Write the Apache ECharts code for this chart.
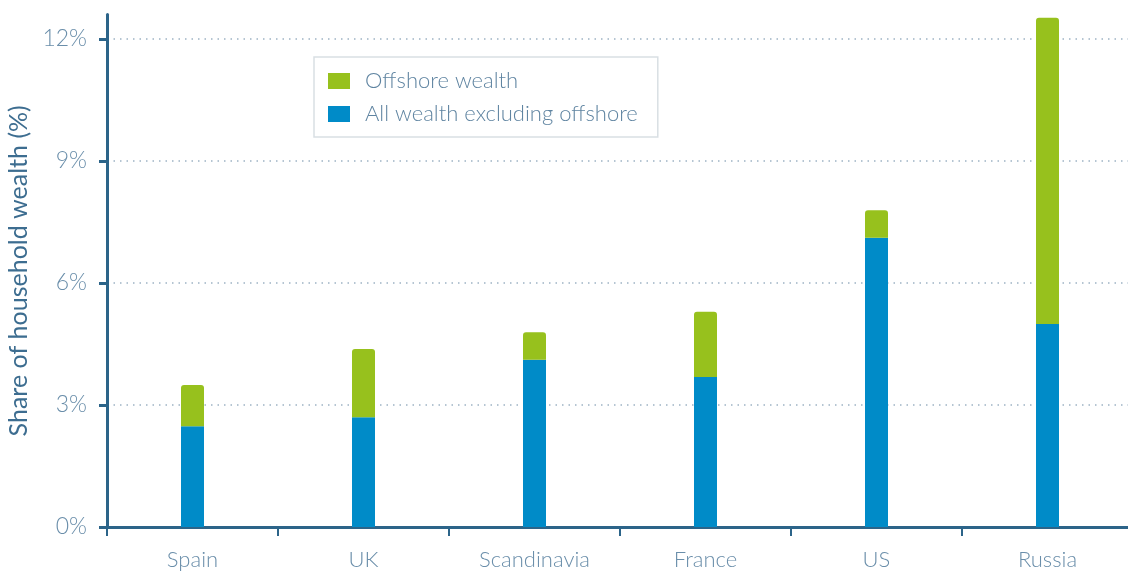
<!DOCTYPE html>
<html>
<head>
<meta charset="utf-8">
<script src="https://cdn.jsdelivr.net/npm/echarts@6/dist/echarts.min.js"></script>
<style>
html, body { margin: 0; padding: 0; background: #fff; }
#container { width: 1128px; height: 572px; }
</style>
</head>
<body>
<div id="container"></div>
<script>
var categories = ['Spain', 'UK', 'Scandinavia', 'France', 'US', 'Russia'];
var baseWealth = [2.48, 2.70, 4.11, 3.69, 7.11, 4.99];
var offshoreWealth = [1.01, 1.68, 0.68, 1.60, 0.68, 7.53];
var yTicks = [0, 3, 6, 9, 12];

var axisColor = '#2c6489';
var labelColor = '#6a8eaa';
var font = 'Lato, "Open Sans", sans-serif';

var dom = document.getElementById('container');
var myChart = echarts.init(dom);
var option = {
    animation: false,
    textStyle: { fontFamily: font },
    grid: { left: 107, top: 14.6, width: 1026, height: 512.4, containLabel: false, outerBoundsMode: 'none' },
    legend: {
        data: ['Offshore wealth', 'All wealth excluding offshore'],
        orient: 'vertical',
        left: 314,
        top: 57,
        padding: [13, 20, 12, 14],
        itemGap: 11,
        itemWidth: 22,
        itemHeight: 16,
        borderColor: '#d9dfe4',
        borderWidth: 1.5,
        icon: 'rect',
        textStyle: { color: '#5f84a1', fontSize: 22, fontWeight: 300, fontFamily: font, padding: [0, 0, 0, 10] }
    },
    xAxis: {
        type: 'category',
        data: categories,
        axisLine: { lineStyle: { color: axisColor, width: 3 } },
        axisTick: { show: true, length: 9, lineStyle: { color: axisColor, width: 2 } },
        axisLabel: { color: labelColor, fontSize: 22, fontWeight: 300, margin: 22 }
    },
    yAxis: {
        type: 'value',
        min: 0,
        max: 12.6,
        interval: 3,
        name: 'Share of household wealth (%)',
        nameLocation: 'middle',
        nameGap: 73,
        nameTextStyle: { color: '#3d6d90', fontSize: 25 },
        axisLine: { show: true, lineStyle: { color: axisColor, width: 3 } },
        axisTick: { show: true, length: 8, lineStyle: { color: axisColor, width: 3 } },
        axisLabel: {
            color: labelColor, fontSize: 23, fontWeight: 300, margin: 20,
            showMaxLabel: false,
            formatter: function (v) { return yTicks.indexOf(v) >= 0 ? v + '%' : ''; }
        },
        splitLine: { show: true, showMinLine: false, showMaxLine: false, lineStyle: { color: '#9db3c4', type: [1.5, 5], width: 1.5 } }
    },
    series: [
        {
            name: 'All wealth excluding offshore',
            type: 'bar',
            stack: 'w',
            barWidth: 23,
            itemStyle: { color: '#008bc8' },
            data: baseWealth
        },
        {
            name: 'Offshore wealth',
            type: 'bar',
            stack: 'w',
            barWidth: 23,
            itemStyle: { color: '#97c11d', borderRadius: [3, 3, 0, 0] },
            data: offshoreWealth
        }
    ]
};
myChart.setOption(option, true);
</script>
</body>
</html>
